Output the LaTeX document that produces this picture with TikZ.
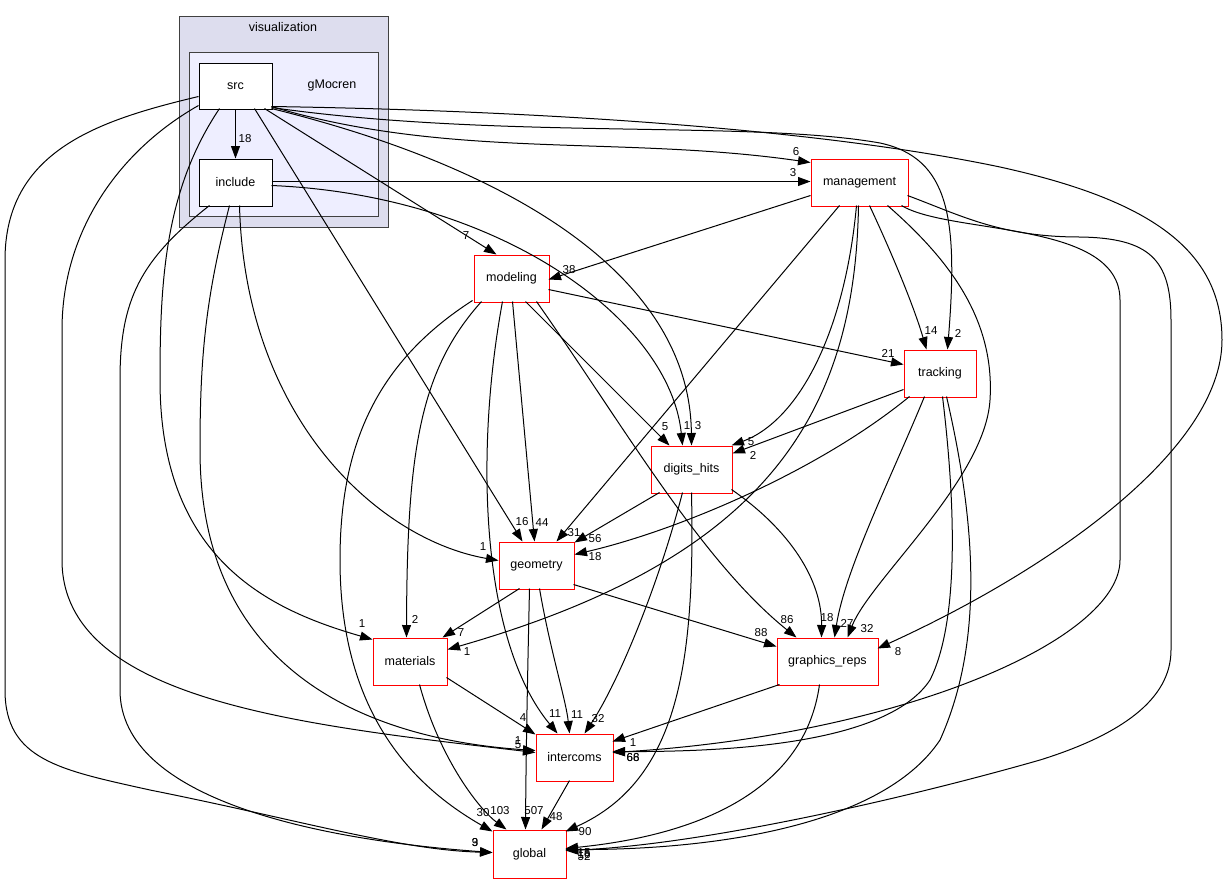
\documentclass[tikz,border=0pt]{standalone}
\usepackage{fontspec}
\setmainfont{Liberation Sans}
\usetikzlibrary{arrows.meta,calc}
\begin{document}
\begin{tikzpicture}[x=1pt,y=-1pt,
  dirn/.style={draw=red, fill=white, line width=1pt, minimum height=47pt, inner sep=0pt, font=\fontsize{12.5}{14}\selectfont},
  srcn/.style={draw=black, fill=white, line width=1pt, minimum height=46pt, minimum width=73pt, inner sep=0pt, font=\fontsize{12.5}{14}\selectfont},
  dep/.style={draw=black, line width=1pt, -{Triangle[length=12.5pt,width=9pt]}},
  lbl/.style={font=\fontsize{11.5}{12}\selectfont, inner sep=0pt},
  clab/.style={font=\fontsize{12.5}{14}\selectfont, inner sep=0pt}]
\fill[white] (0,0) rectangle (1227,884);
\useasboundingbox (0,0) rectangle (1227,884);
% clusters
\node[draw=black!75, fill={rgb,255:red,221;green,221;blue,238}, line width=1pt, minimum width=209pt, minimum height=211pt, inner sep=0pt] (vis) at (283.5,121.5) {};
\node[clab] (vislab) at (283,27) {visualization};
\node[draw=black!75, fill={rgb,255:red,238;green,238;blue,255}, line width=1pt, minimum width=189pt, minimum height=164pt, inner sep=0pt] (gmo) at (283.5,134) {};
\node[clab] (gmolab) at (332,85) {gMocren};
% nodes
\node[srcn] (src) at (235.5,86) {src};
\node[srcn, minimum height=47pt] (include) at (235.5,182.5) {include};
\node[dirn, minimum width=97pt] (management) at (859.5,182.5) {management};
\node[dirn, minimum width=75pt] (modeling) at (511.5,278.5) {modeling};
\node[dirn, minimum width=72pt] (tracking) at (940,373.5) {tracking};
\node[dirn, minimum width=81pt] (digits_hits) at (691.5,469.5) {digits\_hits};
\node[dirn, minimum width=75pt] (geometry) at (536.5,565.5) {geometry};
\node[dirn, minimum width=74pt] (materials) at (410,661.5) {materials};
\node[dirn, minimum width=101pt] (graphics_reps) at (827.5,661.5) {graphics\_reps};
\node[dirn, minimum width=77pt] (intercoms) at (574.5,757.5) {intercoms};
\node[dirn, minimum width=73pt, minimum height=48pt] (global) at (529.5,854) {global};
% edges
\draw[dep] (src.south) -- (include.north);
\draw[dep] ($(src.north west)+(73,44)$) .. controls (450,160) and (620,135) .. ($(management.north west)+(0,4)$);
\draw[dep] ($(include.north west)+(73,23)$) -- ($(management.north west)+(0,23)$);
\draw[dep] ($(src.north west)+(66,46)$) -- ($(modeling.north west)+(23,0)$);
\draw[dep] ($(management.north west)+(0,37)$) -- ($(modeling.north west)+(75,25)$);
\draw[dep] ($(src.north west)+(73,45)$) .. controls (500,140) and (750,120) .. (880,143) .. controls (950,158) and (958,220) .. ($(tracking.north west)+(44,0)$);
\draw[dep] ($(management.north west)+(59,47)$) .. controls (895,260) and (915,310) .. ($(tracking.north west)+(23,0)$);
\draw[dep] ($(modeling.north west)+(75,35)$) -- ($(tracking.north west)+(0,15)$);
\draw[dep] ($(src.north west)+(73,46)$) .. controls (520,170) and (690,280) .. ($(digits_hits.north west)+(41,0)$);
\draw[dep] ($(include.north west)+(73,27)$) .. controls (500,195) and (670,320) .. ($(digits_hits.north west)+(32,0)$);
\draw[dep] ($(modeling.north west)+(52,47)$) -- ($(digits_hits.north west)+(19,0)$);
\draw[dep] ($(management.north west)+(46,47)$) .. controls (845,330) and (800,420) .. ($(digits_hits.north west)+(81,0)$);
\draw[dep] ($(tracking.north west)+(0,40)$) -- ($(digits_hits.north west)+(82,8)$);
\draw[dep] ($(src.north west)+(56,46)$) -- ($(geometry.north west)+(24,0)$);
\draw[dep] ($(include.north west)+(41,47)$) .. controls (245,420) and (380,540) .. ($(geometry.north west)+(0,19)$);
\draw[dep] ($(modeling.north west)+(39,47)$) -- ($(geometry.north west)+(36,0)$);
\draw[dep] ($(management.north west)+(29,47)$) -- ($(geometry.north west)+(58,0)$);
\draw[dep] ($(digits_hits.north west)+(9,47)$) -- ($(geometry.north west)+(76,1)$);
\draw[dep] ($(tracking.north west)+(6,47)$) .. controls (820,470) and (680,530) .. ($(geometry.north west)+(76,13)$);
\draw[dep] ($(src.north west)+(21,46)$) .. controls (165,190) and (160,280) .. (160,380) .. controls (160,560) and (270,610) .. ($(materials.north west)+(0,2)$);
\draw[dep] ($(modeling.north west)+(8,47)$) .. controls (420,370) and (407,450) .. ($(materials.north west)+(34,0)$);
\draw[dep] ($(geometry.north west)+(21,47)$) -- ($(materials.north west)+(70,0)$);
\draw[dep] ($(management.north west)+(48,47)$) .. controls (855,420) and (760,560) .. ($(materials.north west)+(75,12)$);
\draw[dep] ($(src.north west)+(73,44)$) .. controls (500,110) and (800,125) .. (1000,167) .. controls (1150,200) and (1222,250) .. (1222,340) .. controls (1222,450) and (1050,570) .. ($(graphics_reps.north west)+(101,11)$);
\draw[dep] ($(modeling.north west)+(63,47)$) .. controls (620,420) and (700,560) .. ($(graphics_reps.north west)+(20,0)$);
\draw[dep] ($(geometry.north west)+(75,43)$) -- ($(graphics_reps.north west)+(0,9)$);
\draw[dep] ($(digits_hits.north west)+(81,44)$) .. controls (790,530) and (822,580) .. ($(graphics_reps.north west)+(45,0)$);
\draw[dep] ($(tracking.north west)+(21,47)$) .. controls (890,480) and (845,570) .. ($(graphics_reps.north west)+(58,0)$);
\draw[dep] ($(management.north west)+(77,47)$) .. controls (950,260) and (995,320) .. (990,400) .. controls (985,480) and (870,580) .. ($(graphics_reps.north west)+(71,0)$);
\draw[dep] ($(src.north west)+(0,43)$) .. controls (120,150) and (62,230) .. (62,330) -- (62,560) .. controls (62,700) and (300,725) .. ($(intercoms.north west)+(0,19)$);
\draw[dep] ($(include.north west)+(31,47)$) .. controls (205,300) and (200,360) .. (200,450) .. controls (200,680) and (380,740) .. ($(intercoms.north west)+(0,17)$);
\draw[dep] ($(materials.north west)+(74,40)$) -- ($(intercoms.north west)+(0,1)$);
\draw[dep] ($(modeling.north west)+(29,47)$) .. controls (475,450) and (480,640) .. ($(intercoms.north west)+(22,0)$);
\draw[dep] ($(geometry.north west)+(41,47)$) .. controls (550,650) and (566,700) .. ($(intercoms.north west)+(34,0)$);
\draw[dep] ($(digits_hits.north west)+(32,47)$) .. controls (660,580) and (620,680) .. ($(intercoms.north west)+(49,0)$);
\draw[dep] ($(graphics_reps.north west)+(3,47)$) -- ($(intercoms.north west)+(77,8)$);
\draw[dep] ($(tracking.north west)+(39,47)$) .. controls (955,500) and (960,620) .. (930,680) .. controls (890,740) and (750,752) .. ($(intercoms.north west)+(77,18)$);
\draw[dep] ($(management.north west)+(91,47)$) .. controls (950,235) and (1120,220) .. (1120,300) -- (1120,560) .. controls (1120,640) and (900,735) .. ($(intercoms.north west)+(77,19)$);
\draw[dep] ($(src.north west)+(0,34)$) .. controls (100,120) and (5,150) .. (5,260) -- (5,690) .. controls (5,760) and (60,770) .. (150,790) .. controls (300,820) and (400,850) .. ($(global.north west)+(0,23)$);
\draw[dep] ($(include.north west)+(11,47)$) .. controls (140,260) and (120,300) .. (120,380) -- (120,690) .. controls (120,800) and (320,840) .. ($(global.north west)+(0,23)$);
\draw[dep] ($(modeling.north west)+(-1,46)$) .. controls (380,360) and (340,440) .. (340,560) .. controls (340,720) and (420,790) .. ($(global.north west)+(0,2)$);
\draw[dep] ($(materials.north west)+(47,47)$) .. controls (440,760) and (480,810) .. ($(global.north west)+(14,0)$);
\draw[dep] ($(geometry.north west)+(31,47)$) .. controls (527,700) and (526,760) .. ($(global.north west)+(33,0)$);
\draw[dep] ($(intercoms.north west)+(34,47)$) -- ($(global.north west)+(49,0)$);
\draw[dep] ($(digits_hits.north west)+(41,47)$) .. controls (695,660) and (680,780) .. ($(global.north west)+(73,2)$);
\draw[dep] ($(tracking.north west)+(43,47)$) .. controls (975,520) and (985,640) .. (940,740) .. controls (880,830) and (700,850) .. ($(global.north west)+(73,20)$);
\draw[dep] ($(management.north west)+(97,37)$) .. controls (960,215) and (1000,237) .. (1080,237) .. controls (1150,238) and (1171,260) .. (1171,320) -- (1171,650) .. controls (1171,700) and (1120,735) .. (1040,760) .. controls (900,800) and (700,845) .. ($(global.north west)+(73,21)$);
\draw[dep] ($(graphics_reps.north west)+(43,47)$) .. controls (805,790) and (700,835) .. ($(global.north west)+(73,19)$);
% labels
\node[lbl] (l01) at (245,139) {18};
\node[lbl] (l02) at (796,152) {6};
\node[lbl] (l03) at (793,173) {3};
\node[lbl] (l04) at (466,236) {7};
\node[lbl] (l05) at (569,270) {38};
\node[lbl] (l06) at (931,331) {14};
\node[lbl] (l07) at (958,333) {2};
\node[lbl] (l08) at (888,353) {21};
\node[lbl] (l09) at (665,427) {5};
\node[lbl] (l10) at (687,426) {1};
\node[lbl] (l11) at (698,426) {3};
\node[lbl] (l12) at (751,442) {5};
\node[lbl] (l13) at (753,455) {2};
\node[lbl] (l14) at (522,522) {16};
\node[lbl] (l15) at (542,523) {44};
\node[lbl] (l16) at (574,533) {31};
\node[lbl] (l17) at (595,539) {56};
\node[lbl] (l18) at (595,557) {18};
\node[lbl] (l19) at (483,547) {1};
\node[lbl] (l20) at (362,624) {1};
\node[lbl] (l21) at (415,619) {2};
\node[lbl] (l22) at (461,633) {7};
\node[lbl] (l23) at (467,652) {1};
\node[lbl] (l24) at (523,718) {4};
\node[lbl] (l25) at (555,714) {11};
\node[lbl] (l26) at (577,715) {11};
\node[lbl] (l27) at (598,719) {32};
\node[lbl] (l28) at (518,741) {1};
\node[lbl] (l29) at (518,745) {5};
\node[lbl] (l30) at (633,743) {1};
\node[lbl] (l31) at (633,758) {66};
\node[lbl] (l32) at (633,758) {68};
\node[lbl] (l33) at (761,633) {88};
\node[lbl] (l34) at (787,620) {86};
\node[lbl] (l35) at (827,618) {18};
\node[lbl] (l36) at (847,623) {27};
\node[lbl] (l37) at (867,629) {32};
\node[lbl] (l38) at (898,652) {8};
\node[lbl] (l39) at (483,813) {30};
\node[lbl] (l40) at (500,811) {103};
\node[lbl] (l41) at (534,811) {507};
\node[lbl] (l42) at (556,817) {48};
\node[lbl] (l43) at (585,832) {90};
\node[lbl] (l44) at (584,853) {15};
\node[lbl] (l45) at (584,857) {52};
\node[lbl] (l46) at (584,855) {16};
\node[lbl] (l47) at (475,843) {9};
\node[lbl] (l48) at (475,843) {3};
\end{tikzpicture}
\end{document}
